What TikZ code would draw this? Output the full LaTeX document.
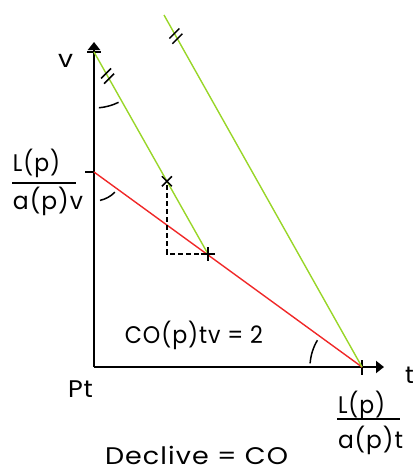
\documentclass[tikz,border=0pt]{standalone}
\usepackage{fontspec}
\usepackage{graphicx}
\setmainfont{Poppins}[LetterSpace=4]
\usetikzlibrary{arrows.meta,calc}
\definecolor{lgreen}{RGB}{153,214,41}
\definecolor{lred}{RGB}{240,40,40}
\newcommand{\fitw}[2]{\resizebox{#1}{\height}{#2}}
\begin{document}
\begin{tikzpicture}[x=1pt,y=-1pt,
  axis/.style={line width=1.9pt, black},
  gline/.style={line width=1.4pt, lgreen},
  rline/.style={line width=1.4pt, lred},
  thinb/.style={line width=1.5pt, black},
  dashb/.style={line width=1.5pt, black, dash pattern=on 5pt off 3pt},
  lab/.style={inner sep=0pt, font=\fontsize{24}{28}\selectfont},
  fbar/.style={line width=1.5pt, black}]
\useasboundingbox (0,0) rectangle (415,471);
% key points
\coordinate (O) at (94,367);
\coordinate (VT) at (94,42);
\coordinate (HT) at (384,367);
\coordinate (A) at (94,52);
\coordinate (R) at (94,172);
\coordinate (E) at (362,367);
\coordinate (P) at (208,254);
\coordinate (G2) at (164,15);
% axes
\draw[axis,-{Triangle[length=8pt,width=12pt]}] (O) -- (VT);
\draw[axis,-{Triangle[length=8pt,width=12pt]}] (O) -- (HT);
% ticks
\draw[thinb] ($(A)+(-7,0)$) -- ($(A)+(7,0)$);
\draw[thinb] ($(R)+(-9,0)$) -- (R);
\draw[thinb] ($(E)+(0,-7)$) -- ($(E)+(0,8)$);
% lines
\draw[rline] (R) -- (E);
\draw[gline] (A) -- (P) coordinate[pos=0.64] (X) coordinate[pos=0.119] (M1);
\draw[gline] (G2) -- (E) coordinate[pos=0.06] (M2);
% dashed construction
\coordinate (C) at (X |- P);
\draw[dashb] ($(X)+(0,4)$) -- (C) -- (P);
% x and + marks
\draw[thinb] ($(X)+(-5,-5)$) -- ($(X)+(5,5)$) ($(X)+(-5,5)$) -- ($(X)+(5,-5)$);
\draw[thinb] ($(P)+(-7,0)$) -- ($(P)+(7,0)$) ($(P)+(0,-7)$) -- ($(P)+(0,7)$);
% parallel marks
\foreach \m in {M1,M2}{
  \draw[thinb] ($(\m)+(-1.5,-2.6)+(-5,5)$) -- ($(\m)+(-1.5,-2.6)+(5,-5)$);
  \draw[thinb] ($(\m)+(1.5,2.6)+(-5,5)$) -- ($(\m)+(1.5,2.6)+(5,-5)$);
}
% angle arcs
\draw[thinb] ($(A)+(64:56)$) arc[start angle=64,end angle=85,radius=56];
\draw[thinb] ($(R)+(44:29)$) arc[start angle=44,end angle=78,radius=29];
\draw[thinb] ($(E)+(184:52)$) arc[start angle=184,end angle=211,radius=52];
% labels
\node[lab] (lv) at (65.5,61) {\fitw{15pt}{v}};
\node[lab] (lt) [anchor=east] at (414,375) {t};
\node[lab] (lpt) at (80.5,389) {\fitw{25pt}{Pt}};
\node[lab] (lco) at (194,335) {\fitw{138pt}{CO(p)tv = 2}};
\node[lab] (ldec) at (196.5,455) {\fitw{183pt}{Declive = CO}};
\node[lab] (n1) at (36.5,163) {\fitw{47pt}{L(p)}};
\draw[fbar] (12,183) -- (76,183);
\node[lab] (d1) at (48,201) {\fitw{70pt}{a(p)v}};
\node[lab] (n2) at (361.5,405) {\fitw{47pt}{L(p)}};
\draw[fbar] (337,419) -- (400,419);
\node[lab] (d2) at (370.5,440) {\fitw{65pt}{a(p)t}};
\end{tikzpicture}
\end{document}
